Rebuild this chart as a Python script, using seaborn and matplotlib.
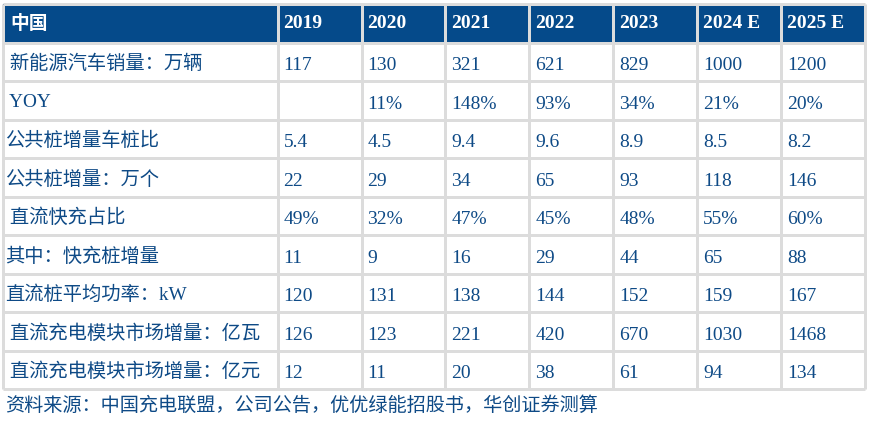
import numpy as np
import seaborn as sns
import matplotlib.pyplot as plt
from matplotlib.colors import ListedColormap

header_label = '中国'
years = ['2019', '2020', '2021', '2022', '2023', '2024 E', '2025 E']
row_labels = [
    ' 新能源汽车销量：万辆',
    ' YOY',
    '公共桩增量车桩比',
    '公共桩增量：万个',
    ' 直流快充占比',
    '其中：快充桩增量',
    '直流桩平均功率：kW',
    ' 直流充电模块市场增量：亿瓦',
    ' 直流充电模块市场增量：亿元',
]
ev_sales = ['117', '130', '321', '621', '829', '1000', '1200']
yoy = ['', '11%', '148%', '93%', '34%', '21%', '20%']
car_pile_ratio = ['5.4', '4.5', '9.4', '9.6', '8.9', '8.5', '8.2']
public_piles = ['22', '29', '34', '65', '93', '118', '146']
dc_share = ['49%', '32%', '47%', '45%', '48%', '55%', '60%']
fast_piles = ['11', '9', '16', '29', '44', '65', '88']
dc_power_kw = ['120', '131', '138', '144', '152', '159', '167']
module_gw = ['126', '123', '221', '420', '670', '1030', '1468']
module_yuan = ['12', '11', '20', '38', '61', '94', '134']
source_note = '资料来源：中国充电联盟，公司公告，优优绿能招股书，华创证券测算'

rows = [ev_sales, yoy, car_pile_ratio, public_piles, dc_share,
        fast_piles, dc_power_kw, module_gw, module_yuan]

BLUE = '#054a8a'
TEXT = '#0e4a86'
GRID = '#dcdcdc'

# column widths in grid units (label column is wider than year columns)
label_units = 36
year_units = 11
col_edges = [0, label_units] + [label_units + year_units * (i + 1) for i in range(len(years))]
n_units = col_edges[-1]
n_rows = len(rows) + 1

fill = np.zeros((n_rows, n_units))
fill[0, :] = 1

sns.set_theme(style='white')
plt.rcParams['font.family'] = ['Noto Sans CJK SC', 'DejaVu Sans']

W, H = 869, 422
fig = plt.figure(figsize=(W / 100, H / 100), dpi=100)
ax = fig.add_axes([3 / W, 1 - 389 / H, 862 / W, 385 / H])
sns.heatmap(fill, ax=ax, cmap=ListedColormap(['white', BLUE]), cbar=False,
            linewidths=0, xticklabels=False, yticklabels=False)

lw = 3 * 72 / 100
ax.vlines(col_edges, 0, n_rows, colors=GRID, linewidth=lw, clip_on=False)
ax.hlines(np.arange(n_rows + 1), 0, n_units, colors=GRID, linewidth=lw, clip_on=False)

unit_px = 862 / n_units
pad = 6 / unit_px
serif = ['Liberation Serif', 'Noto Sans CJK SC']
cjk = ['Noto Sans CJK SC', 'DejaVu Sans']
fs = 14

ax.text(pad * 1.2, 0.5, header_label, color='white', fontsize=13.5, fontweight='bold',
        family=cjk, va='center', ha='left')
for j, y in enumerate(years):
    ax.text(col_edges[j + 1] + pad, 0.5, y, color='white', fontsize=fs,
            fontweight='bold', family=serif, va='center', ha='left')

for i, (label, vals) in enumerate(zip(row_labels, rows), start=1):
    ax.text(pad * 0.4, i + 0.56, label, color=TEXT, fontsize=13.9, family=serif,
            va='center', ha='left')
    for j, v in enumerate(vals):
        ax.text(col_edges[j + 1] + pad, i + 0.6, v, color=TEXT, fontsize=fs,
                family=serif, va='center', ha='left')

fig.text(5 / W, 1 - 405 / H, source_note, color=TEXT, fontsize=13.8,
         family=cjk, style='italic', va='center', ha='left', fontweight='light')

fig.savefig('out.png', dpi=100)
